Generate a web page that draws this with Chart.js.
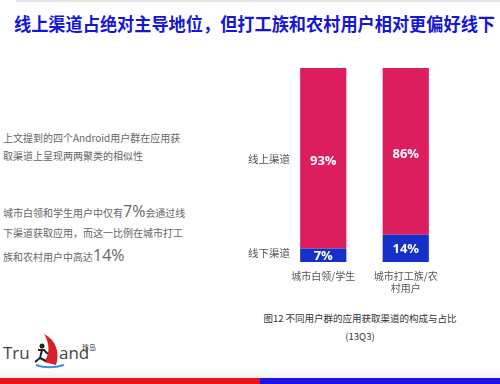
<!DOCTYPE html>
<html><head><meta charset="utf-8">
<script src="https://cdn.jsdelivr.net/npm/chart.js@4"></script>
<style>
html,body{margin:0;padding:0;background:#fff;}
body{width:500px;height:384px;position:relative;overflow:hidden;font-family:"Noto Sans CJK SC","Noto Sans",sans-serif;}
.abs{position:absolute;white-space:nowrap;}
#title{left:14px;top:10px;font-size:18px;font-weight:bold;color:#1616d6;transform-origin:0 0;}
.p{left:3px;font-size:10px;color:#666;}
.big{font-size:16px;color:#666;font-family:"Open Sans","Noto Sans",sans-serif;}
.cap{left:240px;width:240px;text-align:center;font-size:9.5px;color:#333;}
#chartbox{position:absolute;left:240px;top:50px;width:260px;height:250px;}
#topline{left:16px;top:0;width:484px;height:2px;background:#e6e6e6;}
#foot{left:0;top:368px;width:500px;height:11px;background:linear-gradient(#fff,#eef0f2);}
#red{left:0;top:378px;width:260px;height:6px;background:#e8101a;}
#blue{left:260px;top:378px;width:240px;height:6px;background:#1e14e6;}
.logo{font-family:"Open Sans","DejaVu Sans",sans-serif;font-size:17px;color:#444;top:341px;}
</style></head><body>
<div class="abs" id="topline"></div>
<div class="abs" id="title">线上渠道占绝对主导地位，但打工族和农村用户相对更偏好线下</div>
<div class="abs p" style="top:130px">上文提到的四个Android用户群在应用获</div>
<div class="abs p" style="top:148px">取渠道上呈现两两聚类的相似性</div>
<div class="abs p" style="top:200px">城市白领和学生用户中仅有<span class="big">7%</span>会通过线</div>
<div class="abs p" style="top:225px">下渠道获取应用，而这一比例在城市打工</div>
<div class="abs p" style="top:244px">族和农村用户中高达<span class="big">14%</span></div>
<div class="abs cap" style="top:311px">图12 不同用户群的应用获取渠道的构成与占比</div>
<div class="abs cap" style="top:329px">(13Q3)</div>
<div id="chartbox"><canvas id="c" width="260" height="250"></canvas></div>
<div class="abs" id="foot"></div>
<div class="abs" id="red"></div>
<div class="abs" id="blue"></div>
<div class="abs logo" style="left:3px">Tru</div>
<div class="abs logo" style="left:59px">and</div>
<div class="abs" style="left:82px;top:342px;font-size:7px;color:#333;">珍岛</div>
<svg class="abs" style="left:30px;top:332px" width="40" height="38">
<path d="M14 2 C26 8 30 20 26 33 L14 30 C20 22 20 12 14 2 Z" fill="#d8202a"/>
<circle cx="12" cy="14" r="2.5" fill="#222"/>
<path d="M8 18 L14 18 L18 22 M12 18 L10 26 L5 30 M10 26 L16 29" stroke="#222" stroke-width="2" fill="none"/>
<path d="M6 33 C14 36 24 36 34 33" stroke="#3a8ee0" stroke-width="2" fill="none"/>
</svg>
<script>
const categories = [["城市白领/学生"], ["城市打工族/农", "村用户"]];
const seriesNames = ["线下渠道", "线上渠道"];
const offline = [7, 14];
const online = [93, 86];
const yTickValues = [4.5, 53];
const yTickLabels = ["线下渠道", "线上渠道"];

// fit title to reference width
(function(){
  const t = document.getElementById('title');
  const w = t.getBoundingClientRect().width;
  t.style.transform = 'scaleX(' + (481 / w) + ')';
})();

const valueLabels = {
  id: 'valueLabels',
  afterDatasetsDraw(chart) {
    const ctx = chart.ctx;
    ctx.save();
    ctx.fillStyle = '#fff';
    ctx.font = 'bold 13px "Open Sans","Noto Sans",sans-serif';
    ctx.textAlign = 'center';
    ctx.textBaseline = 'middle';
    chart.data.datasets.forEach((ds, i) => {
      const meta = chart.getDatasetMeta(i);
      meta.data.forEach((bar, j) => {
        const v = ds.data[j];
        let y;
        if (i === 0) y = (bar.y + bar.base) / 2;
        else y = chart.scales.y.getPixelForValue(offline[j] + v * 0.49);
        ctx.fillText(v + '%', bar.x, y + 1);
      });
    });
    ctx.restore();
  }
};

new Chart(document.getElementById('c'), {
  type: 'bar',
  data: {
    labels: categories,
    datasets: [
      { label: seriesNames[0], data: offline, backgroundColor: '#1430c8', barPercentage: 0.56, categoryPercentage: 1 },
      { label: seriesNames[1], data: online, backgroundColor: '#dc1e5e', barPercentage: 0.56, categoryPercentage: 1 }
    ]
  },
  options: {
    responsive: false,
    animation: false,
    layout: { padding: { top: 18, right: 53, left: 0, bottom: 0 } },
    plugins: { legend: { display: false }, tooltip: { enabled: false } },
    scales: {
      x: {
        stacked: true,
        grid: { display: false, drawTicks: false },
        border: { display: false },
        ticks: { color: '#555', font: { size: 10, family: '"Noto Sans CJK SC"' }, padding: 8, maxRotation: 0 },
        afterFit(s) { s.height = 38; }
      },
      y: {
        stacked: true,
        min: 0, max: 100,
        grid: { display: false, drawTicks: false },
        border: { display: false },
        afterBuildTicks(s) { s.ticks = yTickValues.map(v => ({ value: v })); },
        ticks: {
          mirror: true,
          color: '#555', font: { size: 10.5, family: '"Noto Sans CJK SC"' }, padding: -34,
          callback(v, i) { return yTickLabels[i]; }
        },
        afterFit(s) { s.width = 42; }
      }
    }
  },
  plugins: [valueLabels]
});
</script>
</body></html>
